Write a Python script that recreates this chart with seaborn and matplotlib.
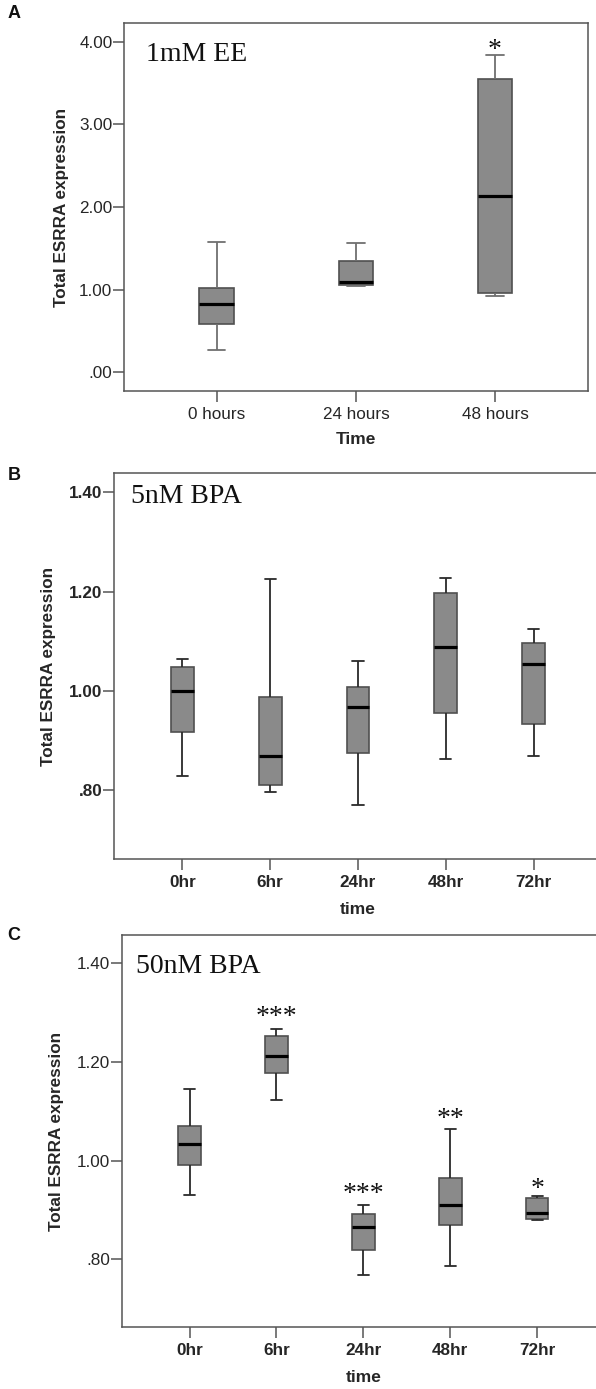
import numpy as np
import pandas as pd
import matplotlib
matplotlib.use("Agg")
import matplotlib.pyplot as plt
import seaborn as sns

# ---------------- data (five-number summaries) ----------------
# Panel A : 1mM EE
a_times = ["0 hours", "24 hours", "48 hours"]
a_low = [0.270, 1.044, 0.927]
a_q1 = [0.588, 1.056, 0.955]
a_med = [0.822, 1.096, 2.132]
a_q3 = [1.023, 1.346, 3.550]
a_high = [1.572, 1.560, 3.837]
a_stars = ["", "", "*"]
a_star_y = [None, None, 3.985]
a_yticks = [0, 1, 2, 3, 4]
a_yticklabels = [".00", "1.00", "2.00", "3.00", "4.00"]

# Panel B : 5nM BPA
b_times = ["0hr", "6hr", "24hr", "48hr", "72hr"]
b_low = [0.829, 0.797, 0.770, 0.863, 0.870]
b_q1 = [0.917, 0.811, 0.876, 0.955, 0.933]
b_med = [1.000, 0.870, 0.968, 1.089, 1.055]
b_q3 = [1.048, 0.988, 1.009, 1.197, 1.097]
b_high = [1.064, 1.225, 1.060, 1.227, 1.125]

# Panel C : 50nM BPA
c_times = ["0hr", "6hr", "24hr", "48hr", "72hr"]
c_low = [0.930, 1.123, 0.768, 0.787, 0.880]
c_q1 = [0.991, 1.178, 0.818, 0.869, 0.882]
c_med = [1.034, 1.211, 0.866, 0.909, 0.894]
c_q3 = [1.070, 1.252, 0.892, 0.964, 0.924]
c_high = [1.145, 1.267, 0.909, 1.064, 0.928]
c_stars = ["", "***", "***", "**", "*"]
c_star_y = [None, 1.304, 0.947, 1.099, 0.957]

bpa_yticks = [0.8, 1.0, 1.2, 1.4]
bpa_yticklabels = [".80", "1.00", "1.20", "1.40"]

ylabel_text = "Total ESRRA expression"

# ---------------- style ----------------
sns.set_theme(style="ticks")
plt.rcParams["font.family"] = ["Liberation Sans", "DejaVu Sans"]

FILL = "#8a8a8a"
EDGE = "#505050"
SPINE = "#555555"

W, H = 596, 1389
fig = plt.figure(figsize=(W / 100, H / 100), dpi=100)


def frame(df_vals, cats):
    rows = []
    for i, c in enumerate(cats):
        for arr in df_vals:
            rows.append({"time": c, "value": arr[i]})
    return pd.DataFrame(rows)


def make_axes(left, right, top, bottom):
    return fig.add_axes([left / W, 1 - bottom / H, (right - left) / W, (bottom - top) / H])


def panel(ax, cats, stats, width, whisker_color, ylim, xlim, yticks, yticklabels,
          ytick_bold, xtick_bold, xlabel, label_text, label_pos, stars, star_y, ylab_x, xlab_y):
    df = frame(stats, cats)
    sns.boxplot(data=df, x="time", y="value", order=cats, ax=ax, width=width,
                color=FILL, linecolor=EDGE, saturation=1, whis=(0, 100),
                linewidth=1.2, showfliers=False,
                medianprops=dict(color="black", linewidth=2.3),
                whiskerprops=dict(color=whisker_color, linewidth=1.3),
                capprops=dict(color=whisker_color, linewidth=1.3),
                boxprops=dict(edgecolor=EDGE, linewidth=1.2))
    ax.set_ylim(*ylim)
    ax.set_xlim(*xlim)
    ax.set_yticks(yticks)
    ax.set_yticklabels(yticklabels, fontsize=12.3,
                       fontweight="bold" if ytick_bold else "normal")
    ax.set_xticks(range(len(cats)))
    ax.set_xticklabels(cats, fontsize=12.3,
                       fontweight="bold" if xtick_bold else "normal")
    for s in ax.spines.values():
        s.set_visible(True)
        s.set_color(SPINE)
        s.set_linewidth(1.1)
    ax.tick_params(axis="y", length=8, width=1.1, color=SPINE, pad=0.5)
    ax.tick_params(axis="x", length=8, width=1.1, color=SPINE, pad=3.5)
    ax.set_ylabel(ylabel_text, fontsize=12.3, fontweight="bold", va="center")
    ax.yaxis.set_label_coords(ylab_x, 0.5)
    ax.set_xlabel(xlabel, fontsize=12.5, fontweight="bold", va="center")
    ax.xaxis.set_label_coords(0.5, xlab_y)
    ax.text(label_pos[0], label_pos[1], label_text, transform=ax.transAxes,
            family=["Liberation Serif", "DejaVu Serif"], fontsize=20,
            ha="left", va="center", color="#111111")
    for i, (s, y) in enumerate(zip(stars, star_y)):
        if s:
            ax.annotate(s, xy=(i, y), xytext=(0, -10), textcoords="offset points",
                        ha="center", va="baseline", fontsize=20,
                        family=["Liberation Serif", "DejaVu Serif"], color="#111111")


# Panel A
axA = make_axes(124.3, 587.5, 23.3, 390.7)
panel(axA, a_times, [a_low, a_q1, a_med, a_q3, a_high], 0.25, "#707070",
      (-0.222, 4.222), (-0.665, 2.665), a_yticks, a_yticklabels,
      False, False, "Time", "1mM EE", (0.047, 0.914), a_stars, a_star_y, -0.1354, -0.134)

# Panel B
axB = make_axes(114, 602, 473.3, 859)
panel(axB, b_times, [b_low, b_q1, b_med, b_q3, b_high], 0.26, "#2a2a2a",
      (0.662, 1.438), (-0.78, 4.78), bpa_yticks, bpa_yticklabels,
      True, True, "time", "5nM BPA", (0.035, 0.939), [""] * 5, [None] * 5, -0.1338, -0.132)

# Panel C
axC = make_axes(121.7, 605, 935, 1327.3)
panel(axC, c_times, [c_low, c_q1, c_med, c_q3, c_high], 0.26, "#2a2a2a",
      (0.662, 1.457), (-0.78, 4.78), bpa_yticks, bpa_yticklabels,
      False, True, "time", "50nM BPA", (0.030, 0.919), c_stars, c_star_y, -0.1339, -0.129)

# panel letters
for letter, yy in [("A", 14), ("B", 475), ("C", 935)]:
    fig.text(14 / W, 1 - yy / H, letter, fontsize=13, fontweight="bold",
             ha="center", va="center", color="#111111")

fig.savefig("out.png", dpi=100)
